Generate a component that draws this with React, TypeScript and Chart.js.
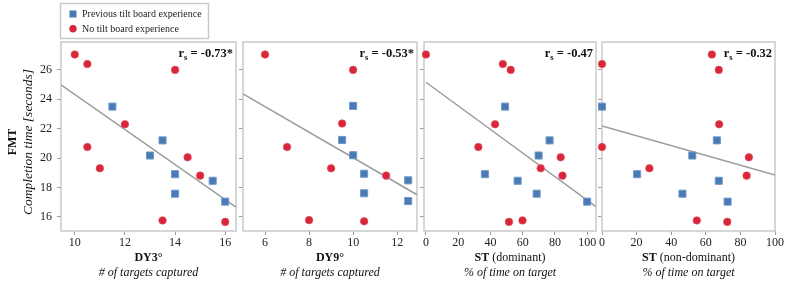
import React, { useEffect, useRef } from "react";
import { Chart, registerables } from "chart.js";

Chart.register(...registerables);

// ---------- data ----------
// FMT completion time [seconds] (y) vs. balance measures (x)
const dy3PrevX = [11.5, 13.5, 13, 14, 14, 15.5, 16];
const dy3PrevY = [23.5, 21.2, 20.17, 18.9, 17.57, 18.45, 17.03];
const dy3NoX = [10, 10.5, 14, 12, 10.5, 11, 14.5, 15, 13.5, 16];
const dy3NoY = [27.05, 26.4, 26.0, 22.3, 20.75, 19.3, 20.05, 18.8, 15.75, 15.65];
const dy3FitX = [9.45, 16.43];
const dy3FitY = [24.98, 16.66];

const dy9PrevX = [10, 9.5, 10, 10.5, 10.5, 12.5, 12.5];
const dy9PrevY = [23.55, 21.23, 20.19, 18.93, 17.6, 18.48, 17.07];
const dy9NoX = [6, 10, 9.5, 7, 9, 11.5, 8, 10.5];
const dy9NoY = [27.05, 26.0, 22.35, 20.75, 19.3, 18.8, 15.77, 15.69];
const dy9FitX = [5.0, 12.9];
const dy9FitY = [24.37, 17.5];

const stDomPrevX = [49.1, 76.7, 69.9, 36.6, 56.9, 68.7, 100];
const stDomPrevY = [23.5, 21.2, 20.17, 18.9, 18.45, 17.57, 17.03];
const stDomNoX = [0, 47.7, 52.6, 42.9, 32.5, 83.6, 71.2, 84.7, 51.5, 59.9];
const stDomNoY = [27.05, 26.4, 26.0, 22.3, 20.75, 20.05, 19.3, 18.8, 15.65, 15.75];
const stDomFitX = [0, 105.5];
const stDomFitY = [25.16, 16.69];

const stNonPrevX = [0, 66.4, 52.2, 20.3, 67.5, 46.5, 72.6];
const stNonPrevY = [23.5, 21.2, 20.17, 18.9, 18.45, 17.57, 17.03];
const stNonNoX = [0, 63.5, 67.5, 67.7, 0, 27.4, 84.9, 83.6, 54.8, 72.4];
const stNonNoY = [26.4, 27.05, 26.0, 22.3, 20.75, 19.3, 20.05, 18.8, 15.75, 15.65];
const stNonFitX = [0, 100];
const stNonFitY = [22.18, 18.84];

const rsValues = ["-0.73*", "-0.53*", "-0.47", "-0.32"];
const xTitleBold = ["DY3°", "DY9°", "ST", "ST"];
const xTitleRest = ["", "", " (dominant)", " (non-dominant)"];
const xSubtitles = ["# of targets captured", "# of targets captured", "% of time on target", "% of time on target"];
const seriesLabels = ["Previous tilt board experience", "No tilt board experience"];
const yTitleBold = "FMT";
const yTitleItalic = "Completion time [seconds]";

const Y_MIN = 15.03;
const Y_MAX = 27.9;
const Y_STEP = 2;

// ---------- style / layout ----------
const SERIF = "'Liberation Serif', 'Times New Roman', serif";
const BLUE = "#4a7ab3";
const BLUE_EDGE = "#7099c9";
const RED = "#d8263b";
const RED_EDGE = "#e2505f";
const FIT = "#9c9c9c";
const FRAME = "#c9c9c9";
const H = 287;
const PLOT_TOP = 42;
const X_AXIS_H = 56;

const zip = (xs: number[], ys: number[]) => xs.map((x, i) => ({ x, y: ys[i] }));

type Panel = {
  canvasL: number;
  canvasW: number;
  yW: number;
  padR: number;
  xMin: number;
  xMax: number;
  xStep: number;
  prev: { x: number; y: number }[];
  no: { x: number; y: number }[];
  fit: { x: number; y: number }[];
  idx: number;
  first: boolean;
};

const PANELS: Panel[] = [
  { canvasL: 0, canvasW: 242, yW: 61, padR: 4, xMin: 9.45, xMax: 16.43, xStep: 2,
    prev: zip(dy3PrevX, dy3PrevY), no: zip(dy3NoX, dy3NoY), fit: zip(dy3FitX, dy3FitY), idx: 0, first: true },
  { canvasL: 237, canvasW: 186, yW: 6, padR: 4, xMin: 5.0, xMax: 12.9, xStep: 2,
    prev: zip(dy9PrevX, dy9PrevY), no: zip(dy9NoX, dy9NoY), fit: zip(dy9FitX, dy9FitY), idx: 1, first: false },
  { canvasL: 418, canvasW: 184, yW: 6, padR: 4, xMin: -1.2, xMax: 105.5, xStep: 20,
    prev: zip(stDomPrevX, stDomPrevY), no: zip(stDomNoX, stDomNoY), fit: zip(stDomFitX, stDomFitY), idx: 2, first: false },
  { canvasL: 596, canvasW: 194, yW: 6, padR: 15, xMin: 0, xMax: 100, xStep: 20,
    prev: zip(stNonPrevX, stNonPrevY), no: zip(stNonNoX, stNonNoY), fit: zip(stNonFitX, stNonFitY), idx: 3, first: false },
];

function makeDecor(p: Panel) {
  return {
    id: "decor",
    beforeDatasetsDraw(chart: any) {
      const { ctx, chartArea: a } = chart;
      ctx.save();
      ctx.strokeStyle = FRAME;
      ctx.lineWidth = 1.5;
      ctx.strokeRect(a.left, a.top, a.right - a.left, a.bottom - a.top);
      ctx.restore();
    },
    afterDraw(chart: any) {
      const { ctx, chartArea: a } = chart;
      ctx.save();
      ctx.fillStyle = "#111";
      // r_s annotation
      const big = `bold 12.5px ${SERIF}`;
      const small = `bold 8.5px ${SERIF}`;
      const rest = ` = ${rsValues[p.idx]}`;
      ctx.textAlign = "left";
      ctx.textBaseline = "alphabetic";
      ctx.font = big;
      const wR = ctx.measureText("r").width;
      const wRest = ctx.measureText(rest).width;
      ctx.font = small;
      const wS = ctx.measureText("s").width;
      let x = a.right - 3 - (wR + wS + wRest);
      const y = a.top + 15;
      ctx.font = big;
      ctx.fillText("r", x, y);
      x += wR;
      ctx.font = small;
      ctx.fillText("s", x, y + 3);
      x += wS;
      ctx.font = big;
      ctx.fillText(rest, x, y);

      // x-axis titles
      const cx = (a.left + a.right) / 2;
      const boldF = `bold 12px ${SERIF}`;
      const normF = `12px ${SERIF}`;
      ctx.textBaseline = "middle";
      ctx.font = boldF;
      const wb = ctx.measureText(xTitleBold[p.idx]).width;
      ctx.font = normF;
      const wn = ctx.measureText(xTitleRest[p.idx]).width;
      const tx = cx - (wb + wn) / 2;
      ctx.font = boldF;
      ctx.fillText(xTitleBold[p.idx], tx, 258);
      ctx.font = normF;
      ctx.fillText(xTitleRest[p.idx], tx + wb, 258);
      ctx.font = `italic 12px ${SERIF}`;
      ctx.textAlign = "center";
      ctx.fillText(xSubtitles[p.idx], cx, 273);

      if (p.first) {
        // y-axis title
        ctx.save();
        ctx.translate(12.5, 142);
        ctx.rotate(-Math.PI / 2);
        ctx.textAlign = "center";
        ctx.textBaseline = "middle";
        ctx.font = `bold 12px ${SERIF}`;
        ctx.fillText(yTitleBold, 0, 0);
        ctx.font = `italic 13.5px ${SERIF}`;
        ctx.fillText(yTitleItalic, 0, 15.5);
        ctx.restore();

        // legend
        ctx.strokeStyle = FRAME;
        ctx.lineWidth = 1.5;
        ctx.strokeRect(60.5, 3.5, 148, 35);
        const ds = chart.data.datasets;
        const rows = [14, 28.7];
        ctx.textAlign = "left";
        ctx.textBaseline = "middle";
        ctx.font = `10px ${SERIF}`;
        for (let i = 0; i < 2; i++) {
          const d = ds[i];
          ctx.fillStyle = d.backgroundColor;
          if (d.pointStyle === "rect") {
            ctx.fillRect(69.5, rows[i] - 3.5, 7, 7);
          } else {
            ctx.beginPath();
            ctx.arc(73, rows[i], 3.7, 0, Math.PI * 2);
            ctx.fill();
          }
          ctx.fillStyle = "#222";
          ctx.fillText(d.label, 82, rows[i] + 0.5);
        }
      }
      ctx.restore();
    },
  };
}

function buildConfig(p: Panel): any {
  return {
    type: "scatter",
    data: {
      datasets: [
        {
          label: seriesLabels[0],
          data: p.prev,
          pointStyle: "rect",
          pointRadius: 5,
          backgroundColor: BLUE,
          borderColor: BLUE_EDGE,
          borderWidth: 1,
          order: 1,
          clip: false,
        },
        {
          label: seriesLabels[1],
          data: p.no,
          pointStyle: "circle",
          pointRadius: 3.8,
          backgroundColor: RED,
          borderColor: RED_EDGE,
          borderWidth: 0.6,
          order: 2,
          clip: false,
        },
        {
          label: "fit",
          data: p.fit,
          showLine: true,
          pointRadius: 0,
          borderColor: FIT,
          borderWidth: 1.5,
          order: 5,
        },
      ],
    },
    options: {
      animation: false,
      responsive: false,
      devicePixelRatio: 1,
      layout: { padding: { top: PLOT_TOP, right: p.padR, bottom: 0, left: 0 } },
      plugins: { legend: { display: false }, tooltip: { enabled: false } },
      scales: {
        x: {
          type: "linear",
          min: p.xMin,
          max: p.xMax,
          afterFit: (s: any) => {
            s.height = X_AXIS_H;
          },
          border: { display: false },
          grid: { drawOnChartArea: false, drawTicks: true, tickLength: 4, color: "#9a9a9a" },
          ticks: {
            stepSize: p.xStep,
            includeBounds: false,
            autoSkip: false,
            maxRotation: 0,
            padding: 1,
            color: "#222",
            font: { family: SERIF, size: 12 },
          },
        },
        y: {
          type: "linear",
          min: Y_MIN,
          max: Y_MAX,
          afterFit: (s: any) => {
            s.width = p.yW;
          },
          border: { display: false },
          grid: { drawOnChartArea: false, drawTicks: true, tickLength: 4, color: "#9a9a9a" },
          ticks: {
            display: p.first,
            stepSize: Y_STEP,
            includeBounds: false,
            padding: 5,
            color: "#222",
            font: { family: SERIF, size: 12 },
          },
        },
      },
    },
    plugins: [makeDecor(p)],
  };
}

export default function App() {
  const refs = useRef<(HTMLCanvasElement | null)[]>([]);
  useEffect(() => {
    const charts = PANELS.map((p, i) => new Chart(refs.current[i] as HTMLCanvasElement, buildConfig(p)));
    return () => charts.forEach((c) => c.destroy());
  }, []);
  return (
    <div
      style={{
        position: "fixed",
        left: 0,
        top: 0,
        width: 790,
        height: H,
        background: "#fff",
        overflow: "hidden",
      }}
    >
      {PANELS.map((p, i) => (
        <canvas
          key={i}
          ref={(el) => {
            refs.current[i] = el;
          }}
          width={p.canvasW}
          height={H}
          style={{ position: "absolute", left: p.canvasL, top: 0, width: p.canvasW, height: H }}
        />
      ))}
    </div>
  );
}
